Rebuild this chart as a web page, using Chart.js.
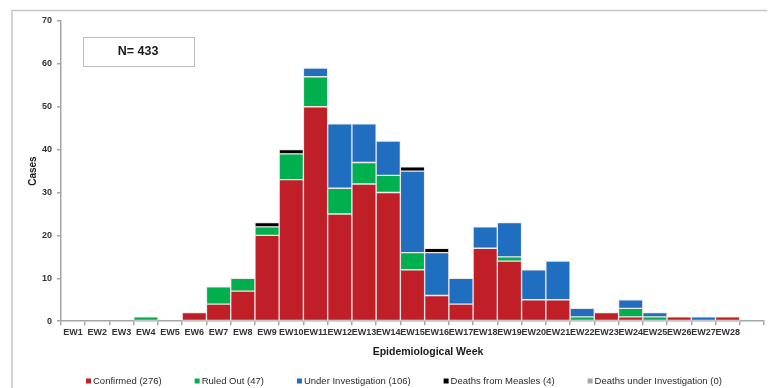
<!DOCTYPE html>
<html>
<head>
<meta charset="utf-8">
<script src="https://cdn.jsdelivr.net/npm/chart.js@4.4.1/dist/chart.umd.min.js"></script>
<style>
  html, body { margin: 0; padding: 0; background: #ffffff; }
  #wrap { width: 772px; height: 388px; position: relative; }
</style>
</head>
<body>
<div id="wrap"><canvas id="c" width="772" height="388"></canvas></div>
<script>
// ---- data ----
const categories = ['EW1','EW2','EW3','EW4','EW5','EW6','EW7','EW8','EW9','EW10','EW11','EW12','EW13','EW14',
  'EW15','EW16','EW17','EW18','EW19','EW20','EW21','EW22','EW23','EW24','EW25','EW26','EW27','EW28',''];
const confirmed          = [0,0,0,0,0,2,4,7,20,33,50,25,32,30,12,6,4,17,14,5,5,0,2,1,0,1,0,1,null];
const ruledOut           = [0,0,0,1,0,0,4,3,2,6,7,6,5,4,4,0,0,0,1,0,0,1,0,2,1,0,0,0,null];
const underInvestigation = [0,0,0,0,0,0,0,0,0,0,2,15,9,8,19,10,6,5,8,7,9,2,0,2,1,0,1,0,null];
const deathsMeasles      = [0,0,0,0,0,0,0,0,1,1,0,0,0,0,1,1,0,0,0,0,0,0,0,0,0,0,0,0,null];
const deathsUnderInv     = [0,0,0,0,0,0,0,0,0,0,0,0,0,0,0,0,0,0,0,0,0,0,0,0,0,0,0,0,null];
const seriesLabels = ['Confirmed (276)','Ruled Out (47)','Under Investigation (106)','Deaths from Measles (4)','Deaths under Investigation (0)'];
const yTicks = [0,10,20,30,40,50,60,70];
const totalLabel = 'N= 433';
const xTitle = 'Epidemiological Week';
const yTitle = 'Cases';

const colors = ['#c01f28','#00b04f','#1f6ebf','#000000','#a6a6a6'];
const seriesData = [confirmed, ruledOut, underInvestigation, deathsMeasles, deathsUnderInv];

const datasets = seriesData.map((d, i) => ({
  label: seriesLabels[i],
  data: d,
  backgroundColor: colors[i],
  borderColor: 'rgba(238,228,228,0.85)',
  borderWidth: 1,
  borderSkipped: false,
  barPercentage: 1.0,
  categoryPercentage: 1.0,
  stack: 's'
}));

const decorPlugin = {
  id: 'decor',
  beforeDraw(chart) {
    const ctx = chart.ctx;
    ctx.save();
    ctx.fillStyle = '#ffffff';
    ctx.fillRect(0, 0, chart.width, chart.height);
    ctx.strokeStyle = '#c6c6c6';
    ctx.lineWidth = 1.5;
    ctx.beginPath();
    ctx.moveTo(12, 388);
    ctx.lineTo(12, 10.5);
    ctx.lineTo(767, 10.5);
    ctx.stroke();
    ctx.restore();
  },
  afterDraw(chart) {
    const ctx = chart.ctx;
    ctx.save();
    // N box
    ctx.strokeStyle = '#bdbdbd';
    ctx.lineWidth = 1;
    ctx.strokeRect(83.5, 37.5, 111, 29);
    ctx.fillStyle = '#1a1a1a';
    ctx.font = 'bold 12.5px "Liberation Sans", Arial, sans-serif';
    ctx.textAlign = 'center';
    ctx.textBaseline = 'middle';
    ctx.fillText(totalLabel, 138, 52);
    // x axis title
    ctx.font = 'bold 10.5px "Liberation Sans Narrow", "Liberation Sans", Arial, sans-serif';
    ctx.fillText(xTitle, 428, 352);
    // legend
    ctx.font = '9.5px "Liberation Sans Narrow", "Liberation Sans", Arial, sans-serif';
    ctx.textAlign = 'left';
    let x = 86;
    const y = 381;
    chart.data.datasets.forEach((ds) => {
      ctx.fillStyle = ds.backgroundColor;
      ctx.fillRect(x, y - 2.5, 5, 5);
      ctx.fillStyle = '#2a2a2a';
      ctx.fillText(ds.label, x + 7, y);
      x += 7 + ctx.measureText(ds.label).width + 33;
    });
    ctx.restore();
  }
};

new Chart(document.getElementById('c'), {
  type: 'bar',
  data: { labels: categories, datasets },
  options: {
    responsive: false,
    animation: false,
    devicePixelRatio: 1,
    layout: { padding: { left: 12, right: 8, top: 21, bottom: 48 } },
    plugins: { legend: { display: false }, tooltip: { enabled: false } },
    scales: {
      x: {
        stacked: true,
        offset: true,
        grid: { offset: true, drawOnChartArea: false, drawTicks: true, tickLength: 4, color: '#a6a6a6', lineWidth: 1.5 },
        border: { color: '#a6a6a6', width: 1.5 },
        ticks: {
          autoSkip: false, maxRotation: 0, minRotation: 0, padding: 2,
          color: '#333333',
          font: { family: '"Liberation Sans Narrow", "Liberation Sans", Arial, sans-serif', size: 9, weight: 'bold' }
        }
      },
      y: {
        stacked: true,
        min: 0, max: 70,
        afterFit(scale) { scale.width = 49; },
        afterBuildTicks(scale) { scale.ticks = yTicks.map(v => ({ value: v })); },
        grid: { drawOnChartArea: false, drawTicks: true, tickLength: 4, color: '#a6a6a6', lineWidth: 1.5 },
        border: { color: '#a6a6a6', width: 1.5 },
        ticks: {
          padding: 5, color: '#333333',
          font: { family: '"Liberation Sans", Arial, sans-serif', size: 9, weight: 'bold' }
        },
        title: {
          display: true, text: yTitle, color: '#1a1a1a',
          padding: { top: 15, bottom: 0 },
          font: { family: '"Liberation Sans Narrow", "Liberation Sans", Arial, sans-serif', size: 10, weight: 'bold' }
        }
      }
    }
  },
  plugins: [decorPlugin]
});
</script>
</body>
</html>
